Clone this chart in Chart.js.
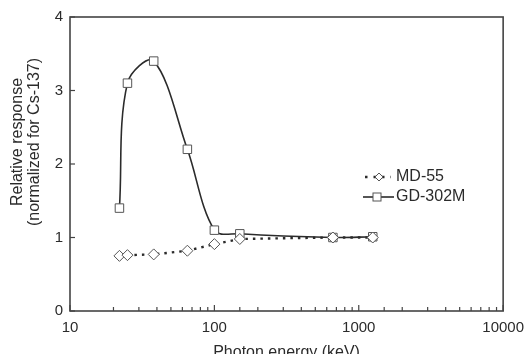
<!DOCTYPE html>
<html>
<head>
<meta charset="utf-8">
<script src="https://cdn.jsdelivr.net/npm/chart.js@4/dist/chart.umd.min.js"></script>
<style>
  html, body { margin: 0; padding: 0; background: #fff; overflow: hidden; }
  #wrap { width: 532px; height: 354px; overflow: hidden; }
</style>
</head>
<body>
<div id="wrap"><canvas id="chart" width="532" height="366"></canvas></div>
<script>
// Photon energy (keV) and relative response readings
const energies = [22, 25, 38, 65, 100, 150, 662, 1250];
const md55 = [0.75, 0.76, 0.77, 0.82, 0.91, 0.98, 1.0, 1.0];
const gd302m = [1.4, 3.1, 3.4, 2.2, 1.1, 1.05, 1.0, 1.01];
const xTickLabels = [10, 100, 1000, 10000];
const yTickValues = [0, 1, 2, 3, 4];
const yTitle = ['Relative response', '(normalized for Cs-137)'];

const INK = '#2b2b2b';
const FONT = '"Liberation Sans", Arial, sans-serif';

function toPoints(ys) {
    return energies.map((e, i) => ({ x: e, y: ys[i] }));
}

// frame, inward tick marks, y title and legend
const decorPlugin = {
    id: 'decor',
    afterDraw(chart) {
        const ctx = chart.ctx;
        const area = chart.chartArea;
        const xs = chart.scales.x;
        const ys = chart.scales.y;
        ctx.save();
        ctx.strokeStyle = '#444';
        ctx.lineWidth = 1.6;
        ctx.strokeRect(area.left, area.top, area.right - area.left, area.bottom - area.top);

        ctx.lineWidth = 1.2;
        xs.ticks.forEach(t => {
            const px = xs.getPixelForValue(t.value);
            const len = xTickLabels.includes(t.value) ? 6 : 4;
            ctx.beginPath();
            ctx.moveTo(px, area.bottom);
            ctx.lineTo(px, area.bottom - len);
            ctx.stroke();
        });
        ys.ticks.forEach(t => {
            const py = ys.getPixelForValue(t.value);
            ctx.beginPath();
            ctx.moveTo(area.left, py);
            ctx.lineTo(area.left + 5, py);
            ctx.stroke();
        });

        // y axis title, two lines
        ctx.fillStyle = INK;
        ctx.font = '16px ' + FONT;
        ctx.textAlign = 'center';
        ctx.textBaseline = 'middle';
        ctx.translate(0, 142);
        ctx.rotate(-Math.PI / 2);
        ctx.fillText(yTitle[0], 0, 18);
        ctx.fillText(yTitle[1], 0, 35);
        ctx.restore();

        // legend
        ctx.save();
        ctx.font = '16px ' + FONT;
        ctx.fillStyle = INK;
        ctx.textBaseline = 'middle';
        chart.data.datasets.forEach((ds, i) => {
            const y = 177 + i * 20;
            const dashed = !!ds.borderDash;
            ctx.strokeStyle = INK;
            ctx.lineWidth = ds.borderWidth;
            ctx.setLineDash(dashed ? [2.5, 6] : []);
            ctx.beginPath();
            ctx.moveTo(dashed ? 365 : 363, y);
            ctx.lineTo(dashed ? 391 : 394, y);
            ctx.stroke();
            ctx.setLineDash([]);
            ctx.fillStyle = '#fff';
            ctx.strokeStyle = '#555';
            ctx.lineWidth = 1;
            if (ds.pointStyle === 'rect') {
                ctx.fillRect(373, y - 4, 8, 8);
                ctx.strokeRect(373, y - 4, 8, 8);
            } else {
                ctx.beginPath();
                ctx.moveTo(379, y - 4);
                ctx.lineTo(383, y);
                ctx.lineTo(379, y + 4);
                ctx.lineTo(375, y);
                ctx.closePath();
                ctx.fill();
                ctx.stroke();
            }
            ctx.fillStyle = INK;
            ctx.fillText(ds.label, 396, y);
        });
        ctx.restore();
    }
};

new Chart(document.getElementById('chart'), {
    type: 'line',
    data: {
        datasets: [{
            label: 'MD-55',
            data: toPoints(md55),
            borderColor: INK,
            borderWidth: 2.4,
            borderDash: [2.5, 5],
            tension: 0,
            pointStyle: 'rectRot',
            pointRadius: 5.5,
            pointBorderWidth: 1,
            pointBorderColor: '#555',
            pointBackgroundColor: '#fff'
        }, {
            label: 'GD-302M',
            data: toPoints(gd302m),
            borderColor: INK,
            borderWidth: 1.6,
            tension: 0.35,
            pointStyle: 'rect',
            pointRadius: 6,
            pointBorderWidth: 1,
            pointBorderColor: '#555',
            pointBackgroundColor: '#fff'
        }]
    },
    options: {
        responsive: false,
        animation: false,
        layout: { padding: { left: 0, right: 25, top: 17, bottom: 0 } },
        plugins: { legend: { display: false }, tooltip: { enabled: false } },
        scales: {
            x: {
                type: 'logarithmic',
                min: 10,
                max: 10000,
                border: { display: false },
                grid: { display: false, drawTicks: false },
                ticks: {
                    autoSkip: false,
                    maxRotation: 0,
                    padding: 8,
                    color: INK,
                    font: { family: FONT, size: 15 },
                    callback: v => xTickLabels.includes(v) ? String(v) : ''
                },
                title: {
                    display: true,
                    text: 'Photon energy (keV)',
                    color: INK,
                    font: { family: FONT, size: 16 },
                    padding: { top: 0, bottom: 4 }
                },
                afterFit: s => { s.height = 55; }
            },
            y: {
                min: 0,
                max: 4,
                border: { display: false },
                grid: { display: false, drawTicks: false },
                afterBuildTicks: s => { s.ticks = yTickValues.map(v => ({ value: v })); },
                ticks: {
                    padding: 7,
                    color: INK,
                    font: { family: FONT, size: 15 }
                },
                afterFit: s => { s.width = 70; }
            }
        }
    },
    plugins: [decorPlugin]
});
</script>
</body>
</html>
